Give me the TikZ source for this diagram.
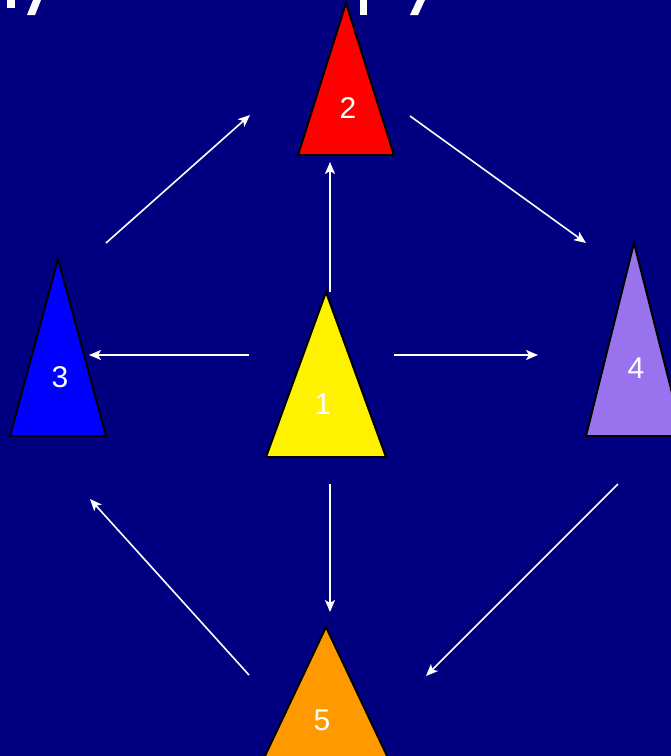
\documentclass[tikz,border=0pt]{standalone}
\usepackage{fontspec}
\setmainfont{Liberation Sans}
\usetikzlibrary{arrows.meta}
\definecolor{bgnavy}{RGB}{0,0,128}
\definecolor{tpurple}{RGB}{153,115,238}
\definecolor{torange}{RGB}{255,153,0}
\tikzset{
  tri/.style={draw=black, line width=2pt, line join=miter},
  lbl/.style={text=white, font=\fontsize{30}{30}\selectfont, inner sep=0pt},
  conn/.style={draw=white, line width=1.6pt, -{Stealth[length=12pt,width=10pt,inset=3pt]}},
  frag/.style={fill=white, draw=none}
}
\begin{document}
\begin{tikzpicture}[x=1pt,y=-1pt]
\useasboundingbox (0,0) rectangle (671,756);
\clip (0,0) rectangle (671,756);
\fill[bgnavy] (0,0) rectangle (671,756);
% cut-off title fragments
\fill[frag] (7,0) rectangle (15,8);
\fill[frag] (33,0) -- (41,0) -- (35,15) -- (27,15) -- cycle;
\fill[frag] (360,0) rectangle (367,15);
\fill[frag] (417,0) -- (425,0) -- (418,15) -- (410,15) -- cycle;
% triangles
\path[tri, fill=red] (346,3) -- (394,155) -- (298,155) -- cycle;
\path[tri, fill=yellow] (326,292) -- (386,457) -- (266,457) -- cycle;
\path[tri, fill=blue] (58,259) -- (106,436) -- (10,436) -- cycle;
\path[tri, fill=tpurple] (634,243) -- (683,436) -- (586,436) -- cycle;
\path[tri, fill=torange] (326,627) -- (388,758) -- (264,758) -- cycle;
% labels
\node[lbl] (n2) at (348,108) {2};
\node[lbl] (n1) at (323,404) {1};
\node[lbl] (n3) at (60,377) {3};
\node[lbl] (n4) at (636,368) {4};
\node[lbl] (n5) at (322,720) {5};
% arrow end points
\coordinate (a32s) at (106,243); \coordinate (a32e) at (250,115);
\coordinate (a24s) at (410,116); \coordinate (a24e) at (586,243);
\coordinate (a12s) at (330,292); \coordinate (a12e) at (330,162);
\coordinate (a13s) at (249,355); \coordinate (a13e) at (89,355);
\coordinate (a14s) at (394,355); \coordinate (a14e) at (538,355);
\coordinate (a15s) at (330,484); \coordinate (a15e) at (330,612);
\coordinate (a45s) at (618,484); \coordinate (a45e) at (426,676);
\coordinate (a53s) at (249,675); \coordinate (a53e) at (90,499);
\draw[conn] (a32s) -- (a32e);
\draw[conn] (a24s) -- (a24e);
\draw[conn] (a12s) -- (a12e);
\draw[conn] (a13s) -- (a13e);
\draw[conn] (a14s) -- (a14e);
\draw[conn] (a15s) -- (a15e);
\draw[conn] (a45s) -- (a45e);
\draw[conn] (a53s) -- (a53e);
\end{tikzpicture}
\end{document}
